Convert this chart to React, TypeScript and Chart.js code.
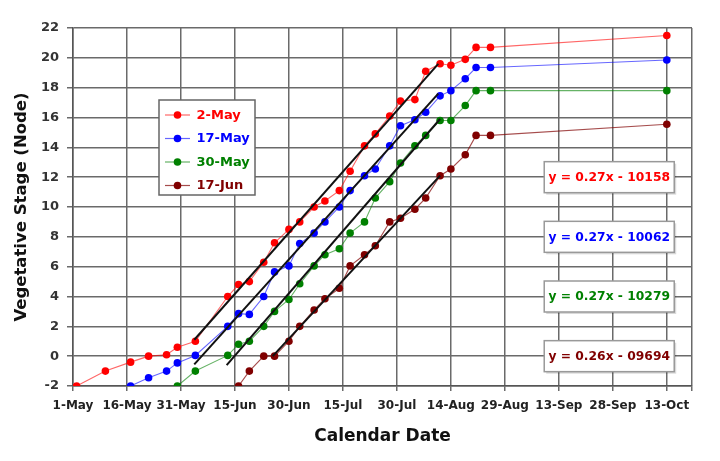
import React, { useEffect, useRef } from 'react';
import { Chart, registerables } from 'chart.js';

Chart.register(...registerables);

// Days after 1-May for each observation date
const DAYS = [1, 9, 16, 21, 26, 29, 34, 43, 46, 49, 53, 56, 60, 63, 67, 70, 74, 77, 81, 84, 88, 91, 95, 98, 102, 105, 109, 112, 116, 165];

const SERIES_NAMES = ['2-May', '17-May', '30-May', '17-Jun'];

const MAY2 = [-2, -1, -0.4, 0, 0.1, 0.6, 1.0, 4.0, 4.8, 5.0, 6.3, 7.6, 8.5, 9.0, 10.0, 10.4, 11.1, 12.4, 14.1, 14.9, 16.1, 17.1, 17.2, 19.1, 19.6, 19.5, 19.9, 20.7, 20.7, 21.5];
const MAY17 = [null, null, -2, -1.45, -1.0, -0.45, 0.05, 2.0, 2.85, 2.8, 4.0, 5.65, 6.05, 7.55, 8.25, 9.0, 10.0, 11.1, 12.1, 12.55, 14.1, 15.45, 15.85, 16.35, 17.45, 17.8, 18.6, 19.35, 19.35, 19.85];
const MAY30 = [null, null, null, null, null, -2, -1.0, 0.05, 0.8, 1.0, 2.0, 3.0, 3.8, 4.85, 6.05, 6.8, 7.2, 8.25, 9.0, 10.6, 11.7, 12.95, 14.1, 14.8, 15.8, 15.8, 16.8, 17.8, 17.8, 17.8];
const JUN17 = [null, null, null, null, null, null, null, null, -2, -1, 0, 0, 1.0, 2.0, 3.1, 3.85, 4.55, 6.05, 6.8, 7.4, 9.0, 9.25, 9.85, 10.6, 12.1, 12.55, 13.5, 14.8, 14.8, 15.55];

// Linear-phase trend lines (day, value) at start and end
const TREND_START_DAY = [33.7, 33.7, 42.7, 55.5];
const TREND_START_VAL = [1.1, -0.55, -0.6, 0.0];
const TREND_END_DAY = [101.5, 101.5, 102, 102];
const TREND_END_VAL = [19.6, 17.6, 15.9, 12.1];

const EQUATIONS = ['y = 0.27x - 10158', 'y = 0.27x - 10062', 'y = 0.27x - 10279', 'y = 0.26x - 09694'];

const X_TICK_LABELS = ['1-May', '16-May', '31-May', '15-Jun', '30-Jun', '15-Jul', '30-Jul', '14-Aug', '29-Aug', '13-Sep', '28-Sep', '13-Oct'];
const X_TICK_STEP = 15;
const X_MAX = 172;

const COLORS = ['#ff0000', '#0000ff', '#008000', '#800000'];
const LINE_COLORS = ['rgba(255,0,0,0.6)', 'rgba(0,0,255,0.6)', 'rgba(0,128,0,0.6)', 'rgba(128,0,0,0.7)'];
const FONT = "'DejaVu Sans', sans-serif";

const overlayPlugin = {
  id: 'overlay',
  afterDraw(chart: any) {
    const ctx = chart.ctx;
    ctx.save();
    // Legend box
    const lx = 159, ly = 100, lw = 96, lh = 95;
    const rows = [115, 138.5, 162, 185.5];
    ctx.fillStyle = '#ffffff';
    ctx.fillRect(lx, ly, lw, lh);
    ctx.strokeStyle = '#666666';
    ctx.lineWidth = 1.5;
    ctx.strokeRect(lx, ly, lw, lh);
    ctx.font = `bold 13px ${FONT}`;
    ctx.textBaseline = 'middle';
    ctx.textAlign = 'left';
    SERIES_NAMES.forEach((name, i) => {
      const y = rows[i];
      ctx.strokeStyle = LINE_COLORS[i];
      ctx.lineWidth = 1.2;
      ctx.beginPath();
      ctx.moveTo(165, y);
      ctx.lineTo(190, y);
      ctx.stroke();
      ctx.fillStyle = COLORS[i];
      ctx.beginPath();
      ctx.arc(177.5, y, 3.8, 0, Math.PI * 2);
      ctx.fill();
      ctx.fillText(name, 196.5, y + 0.5);
    });

    // Equation boxes
    const xs = chart.scales.x;
    const ys = chart.scales.y;
    const anchors = [12, 8, 4, 0];
    const bw = 130, bh = 31;
    EQUATIONS.forEach((eq, i) => {
      const cx = xs.getPixelForValue(149);
      const cy = ys.getPixelForValue(anchors[i]);
      const x0 = cx - bw / 2, y0 = cy - bh / 2;
      ctx.fillStyle = 'rgba(0,0,0,0.15)';
      ctx.fillRect(x0 + 2, y0 + 2, bw, bh);
      ctx.fillStyle = '#ffffff';
      ctx.fillRect(x0, y0, bw, bh);
      ctx.strokeStyle = '#999999';
      ctx.lineWidth = 1.5;
      ctx.strokeRect(x0, y0, bw, bh);
      ctx.fillStyle = COLORS[i];
      ctx.font = `bold 12.3px ${FONT}`;
      ctx.textAlign = 'center';
      ctx.textBaseline = 'middle';
      ctx.fillText(eq, cx, cy + 0.5);
    });
    ctx.restore();
  },
};

export default function App() {
  const ref = useRef<HTMLCanvasElement>(null);
  useEffect(() => {
    document.body.style.margin = '0';
    const canvas = ref.current;
    if (!canvas) return;
    const allSeries = [MAY2, MAY17, MAY30, JUN17];
    const seriesDatasets = allSeries.map((vals, i) => ({
      label: SERIES_NAMES[i],
      data: DAYS.map((d, k) => (vals[k] == null ? null : { x: d, y: vals[k] as number })).filter(Boolean),
      showLine: true,
      borderColor: LINE_COLORS[i],
      borderWidth: 1.1,
      backgroundColor: COLORS[i],
      pointBackgroundColor: COLORS[i],
      pointBorderWidth: 0,
      pointRadius: 3.8,
      order: 2,
    }));
    const trendDatasets = TREND_START_DAY.map((sd, i) => ({
      label: 'trend' + i,
      data: [
        { x: sd, y: TREND_START_VAL[i] },
        { x: TREND_END_DAY[i], y: TREND_END_VAL[i] },
      ],
      showLine: true,
      borderColor: '#111111',
      borderWidth: 2,
      pointRadius: 0,
      order: 1,
    }));

    const gridColor = '#6a6a6a';
    const chart = new Chart(canvas, {
      type: 'scatter',
      data: { datasets: [...trendDatasets, ...seriesDatasets] as any },
      options: {
        responsive: false,
        animation: false,
        layout: { padding: { left: 0, right: 28, top: 28, bottom: 0 } },
        plugins: { legend: { display: false }, tooltip: { enabled: false } },
        scales: {
          x: {
            type: 'linear',
            min: 0,
            max: X_MAX,
            afterFit: (s: any) => { s.height = 75; },
            afterBuildTicks: (s: any) => {
              const t = X_TICK_LABELS.map((_, k) => ({ value: k * X_TICK_STEP }));
              t.push({ value: X_MAX });
              s.ticks = t;
            },
            ticks: {
              autoSkip: false,
              maxRotation: 0,
              minRotation: 0,
              padding: 8,
              color: '#222222',
              font: { family: FONT, weight: 'bold', size: 12 },
              callback: (v: any) => {
                const n = Number(v);
                return n % X_TICK_STEP === 0 ? X_TICK_LABELS[n / X_TICK_STEP] : '';
              },
            },
            grid: { color: gridColor, lineWidth: 1.5, tickLength: 5, drawTicks: true },
            border: { color: '#555555', width: 1.5 },
            title: {
              display: true,
              text: 'Calendar Date',
              color: '#111111',
              font: { family: FONT, weight: 'bold', size: 17 },
              padding: { top: 0, bottom: 14 },
            },
          },
          y: {
            type: 'linear',
            min: -2,
            max: 22,
            afterFit: (s: any) => { s.width = 73; },
            ticks: {
              stepSize: 2,
              padding: 8,
              color: '#333333',
              font: { family: FONT, weight: 'bold', size: 13 },
            },
            grid: { color: gridColor, lineWidth: 1.5, tickLength: 6, drawTicks: true },
            border: { color: '#555555', width: 1.5 },
            title: {
              display: true,
              text: 'Vegetative Stage (Node)',
              color: '#111111',
              font: { family: FONT, weight: 'bold', size: 16.5 },
              padding: { top: 12, bottom: 0 },
            },
          },
        },
      } as any,
      plugins: [overlayPlugin],
    });
    return () => chart.destroy();
  }, []);

  return (
    <div style={{ position: 'absolute', left: 0, top: 0, width: 720, height: 461, background: '#fff' }}>
      <canvas ref={ref} width={720} height={461} style={{ width: 720, height: 461, display: 'block' }} />
    </div>
  );
}
